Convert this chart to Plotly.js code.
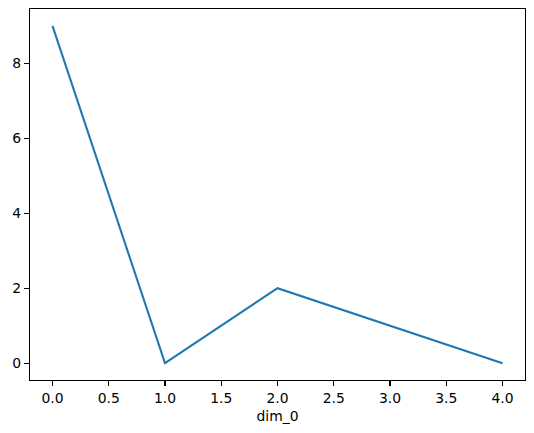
<!DOCTYPE html>
<html>
<head>
<meta charset="utf-8">
<script src="https://cdn.plot.ly/plotly-3.0.1.min.js"></script>
<style>
  html, body { margin: 0; padding: 0; background: #fff; }
  #grafico { width: 534px; height: 433px; }
</style>
</head>
<body>
<div id="grafico"></div>
<script>
// Serie única sobre dim_0
const valoresX = [0, 1, 2, 3, 4];
const valoresY = [9, 0, 2, 1, 0];
const ticksX = [0, 0.5, 1, 1.5, 2, 2.5, 3, 3.5, 4];
const etiquetasX = ['0.0', '0.5', '1.0', '1.5', '2.0', '2.5', '3.0', '3.5', '4.0'];
const ticksY = [0, 2, 4, 6, 8];

const FUENTE = 'DejaVu Sans, sans-serif';

const eje = {
  showline: true, mirror: true, linecolor: '#000', linewidth: 1.1,
  ticks: 'outside', ticklen: 5, tickwidth: 1.1, tickcolor: '#000',
  showgrid: false, zeroline: false,
  tickfont: { family: FUENTE, size: 13.9, color: '#000' },
};

const traza = {
  type: 'scatter', mode: 'lines',
  x: valoresX, y: valoresY,
  line: { color: '#1f77b4', width: 2.1 },
  hoverinfo: 'skip',
};

const layout = {
  width: 534, height: 433,
  margin: { l: 30, r: 9, t: 9, b: 53 },
  showlegend: false,
  paper_bgcolor: '#fff', plot_bgcolor: '#fff',
  font: { family: FUENTE, size: 13.9, color: '#000' },
  xaxis: Object.assign({}, eje, {
    range: [-0.2, 4.2], tickvals: ticksX, ticktext: etiquetasX,
    title: { text: 'dim_0', font: { family: FUENTE, size: 13.9, color: '#000' }, standoff: 6 },
  }),
  yaxis: Object.assign({}, eje, {
    range: [-0.45, 9.45], tickvals: ticksY, ticktext: ticksY.map(String),
  }),
};

Plotly.newPlot('grafico', [traza], layout, { displayModeBar: false, staticPlot: true });
</script>
</body>
</html>
